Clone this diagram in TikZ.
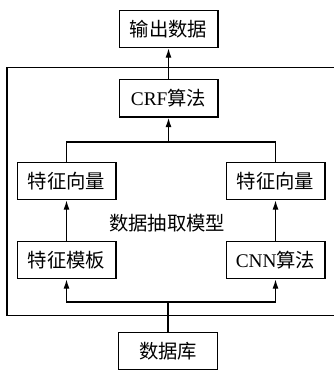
\documentclass[tikz,border=0pt]{standalone}
\usepackage{fontspec}
\setmainfont{Liberation Serif}
\newfontfamily\cjk{Noto Sans CJK SC}
\usepackage{tikz}
\usetikzlibrary{positioning,arrows.meta}

\begin{document}
\begin{tikzpicture}[x=0.75pt,y=-0.75pt,
    box/.style={draw,line width=1pt,minimum width=74pt,minimum height=28pt,inner sep=0pt,font=\fontsize{14.5}{16}\selectfont},
    link/.style={line width=0.9pt},
    up/.style={link,-{Latex[length=7pt,width=4.5pt]}}]
      \clip (0,0) rectangle (334,370);
      % frame of the model
      \draw[line width=1pt] (7,67.5) rectangle (345,315.7);
      \node[font=\fontsize{14.5}{16}\selectfont\cjk](model) at (167,223){数据抽取模型};
      \node[box](out) at (168.5,29){\cjk 输出数据};
      \node[box](crf) at (168.5,98.5){CRF\cjk 算法};
      \node[box](vecl) at (66.5,181){\cjk 特征向量};
      \node[box](vecr) at (275.5,181){\cjk 特征向量};
      \node[box](tmpl) at (66.5,260){\cjk 特征模板};
      \node[box](cnn) at (275.5,260){CNN\cjk 算法};
      \node[box,anchor=north](db) at (168,332){\cjk 数据库};
      \coordinate (top) at (168.5,142);
      \coordinate (bot) at (168,302);
      \draw[up] (crf) -- (out);
      \draw[link] (vecl.north) |- (top) -| (vecr.north);
      \draw[up] (top) -- (crf);
      \draw[up] (tmpl) -- (vecl);
      \draw[up] (cnn) -- (vecr);
      \draw[link] (db) -- (bot);
      \draw[up] (bot) -| (tmpl.south);
      \draw[up] (bot) -| (cnn.south);
    \end{tikzpicture}
\end{document}
